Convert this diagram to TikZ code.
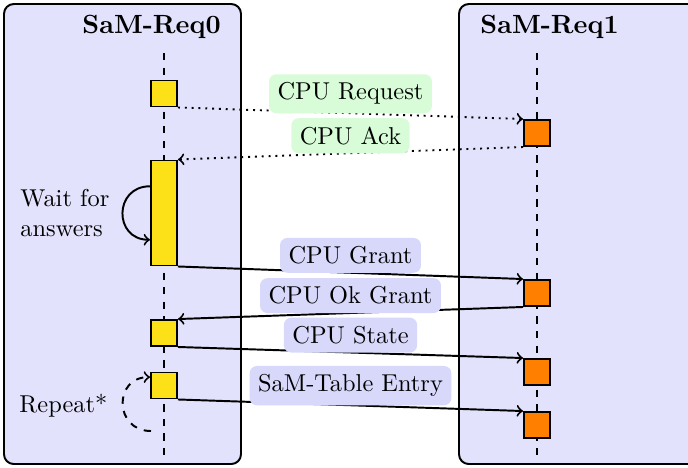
\documentclass[tikz,border=0pt]{standalone}
\usetikzlibrary{calc}
\definecolor{lanefill}{RGB}{226,226,252}
\definecolor{msgblue}{RGB}{216,216,251}
\definecolor{msggreen}{RGB}{216,252,216}
\definecolor{actyellow}{RGB}{252,225,24}
\definecolor{actorange}{RGB}{255,128,0}
\begin{document}
\begin{tikzpicture}[x=0.41pt,y=-0.41pt,
  lane/.style={draw,thick,fill=lanefill,rounded corners=4pt},
  lanetitle/.style={anchor=base west,inner sep=0pt,font=\fontsize{10.8}{13}\selectfont\bfseries},
  lifeline/.style={thick,dashed},
  actbox/.style={draw,thick,rectangle,inner sep=0pt,minimum width=10.66pt,minimum height=10.66pt},
  leftact/.style={actbox,fill=actyellow},
  rightact/.style={actbox,fill=actorange},
  msg/.style={thick,->},
  reqmsg/.style={thick,dotted,->},
  lbl/.style={rounded corners=3pt,inner sep=3.5pt,outer sep=0pt,midway,above=0pt},
  bluelbl/.style={lbl,fill=msgblue},
  greenlbl/.style={lbl,fill=msggreen},
  note/.style={inner sep=0pt,align=left}]
\useasboundingbox (0,0) rectangle (688,467);

% swimlanes
\draw[lane] (4,4) rectangle (241,464);
\draw[lane] (459,4) rectangle (720,464);
\node[lanetitle] (t0) at (82,33) {SaM-Req0};
\node[lanetitle] (t1) at (480,33) {SaM-Req1};

% lifelines
\coordinate (l0top) at (164,53);
\coordinate (l0bot) at (164,461);
\coordinate (l1top) at (537,53);
\coordinate (l1bot) at (537,461);
\draw[lifeline] (l0top) -- (l0bot);
\draw[lifeline] (l1top) -- (l1bot);

% activations
\node[leftact] (a1) at (164,93.5) {};
\node[leftact,minimum height=43.05pt] (a2) at (164,213) {};
\node[leftact] (a3) at (164,333) {};
\node[leftact] (a4) at (164,385.5) {};
\node[rightact] (b1) at (537,133) {};
\node[rightact] (b2) at (537,293) {};
\node[rightact] (b3) at (537,372) {};
\node[rightact] (b4) at (537,425) {};

% messages
\draw[reqmsg] (a1.south east) -- node[greenlbl] (m1) {CPU Request} (b1.north west);
\draw[reqmsg] (b1.south west) -- node[greenlbl] (m2) {CPU Ack} (a2.north east);
\draw[msg] (a2.south east) -- node[bluelbl] (m3) {CPU Grant} (b2.north west);
\draw[msg] (b2.south west) -- node[bluelbl] (m4) {CPU Ok Grant} (a3.north east);
\draw[msg] (a3.south east) -- node[bluelbl] (m5) {CPU State} (b3.north west);
\draw[msg] (a4.south east) -- node[bluelbl] (m6) {SaM-Table Entry} (b4.north west);

% self loops
\draw[thick,->] ($(a2.north west)!0.25!(a2.south west)$)
  to[out=180,in=180,looseness=1.75] ($(a2.north west)!0.75!(a2.south west)$);
\node[note,anchor=west] (wait) at (20,213) {Wait for\\answers};

\coordinate (rep0) at (151,431);
\draw[thick,dashed,->] (rep0)
  to[out=180,in=180,looseness=1.75] ($(a4.north west)!0.2!(a4.south west)$);
\node[note,anchor=base west] (repeat) at (19,412) {Repeat*};
\end{tikzpicture}
\end{document}
